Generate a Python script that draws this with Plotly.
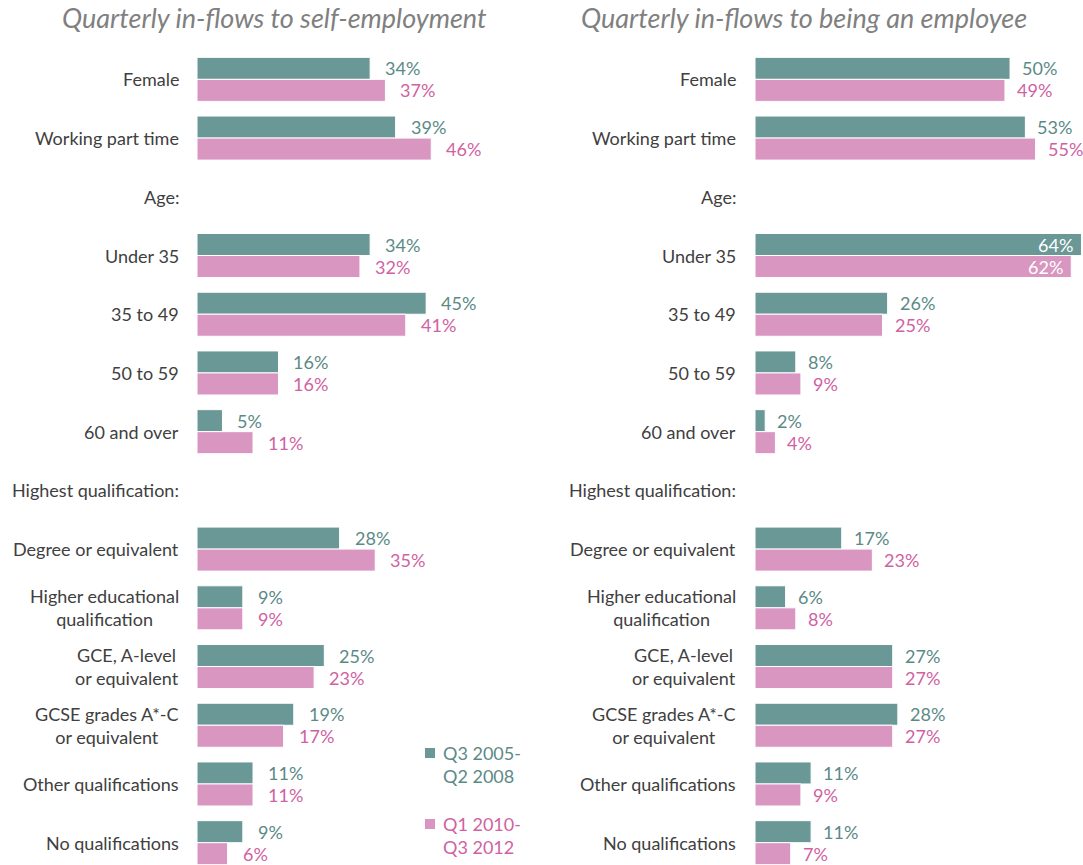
import plotly.graph_objects as go

categories = ["Female", "Working part time", "Age:", "Under 35", "35 to 49", "50 to 59",
              "60 and over", "Highest qualification:", "Degree or equivalent",
              "Higher educational<br>qualification", "GCE, A-level<br>or equivalent",
              "GCSE grades A*-C<br>or equivalent", "Other qualifications", "No qualifications"]

self_emp_2005 = [34, 39, None, 34, 45, 16, 5, None, 28, 9, 25, 19, 11, 9]
self_emp_2010 = [37, 46, None, 32, 41, 16, 11, None, 35, 9, 23, 17, 11, 6]
employee_2005 = [50, 53, None, 64, 26, 8, 2, None, 17, 6, 27, 28, 11, 11]
employee_2010 = [49, 55, None, 62, 25, 9, 4, None, 23, 8, 27, 27, 9, 7]

series_names = ["Q3 2005-<br>Q2 2008", "Q1 2010-<br>Q3 2012"]
titles = ["Quarterly in-flows to self-employment", "Quarterly in-flows to being an employee"]

TEAL = "#699896"
PINK = "#d896c0"
TEAL_TXT = "#5b8a86"
PINK_TXT = "#d062a2"
FONT = "Lato"

W, H = 1083, 865
T, B = 50, 0
PH = H - T - B
rows = list(range(len(categories)))


def py(px):
    """pixel y from top -> paper y"""
    return (H - B - px) / PH


fig = go.Figure()
panels = [
    (self_emp_2005, self_emp_2010, "x", "y", 13),
    (employee_2005, employee_2010, "x2", "y2", 10),
]
annotations = []
shapes = []
for pi, (a, b, xa, ya, gap) in enumerate(panels):
    for si, (vals, col, tcol, off) in enumerate([(a, TEAL, TEAL_TXT, -0.375), (b, PINK, PINK_TXT, 0.0)]):
        fig.add_trace(go.Bar(
            x=vals, y=rows, orientation="h", xaxis=xa, yaxis=ya,
            width=0.375, offset=off, marker=dict(color=col, line=dict(color="white", width=1)),
            name=series_names[si].replace("<br>", " "), showlegend=False,
            hoverinfo="x",
        ))
        for r, v in zip(rows, vals):
            if v is None:
                continue
            inside = v > 60
            annotations.append(dict(
                x=v, y=r + off + 0.1875, xref=xa, yref=ya,
                text=f"{v}%", showarrow=False,
                xanchor="right" if inside else "left",
                xshift=-6 if inside else gap,
                font=dict(family=FONT, size=18, color="white" if inside else tcol),
            ))

# category labels
left_x = [181 / W, 738 / W]
for pi in range(2):
    for r, c in zip(rows, categories):
        annotations.append(dict(
            x=left_x[pi], y=r, xref="paper", yref="y" if pi == 0 else "y2",
            text=c, showarrow=False, xanchor="right", align="center",
            font=dict(family=FONT, size=18, color="#404040"),
        ))

# titles
for pi, xc in enumerate([274 / W, 804 / W]):
    annotations.append(dict(
        x=xc, y=py(17), xref="paper", yref="paper",
        text=titles[pi], showarrow=False, xanchor="center", yanchor="middle",
        font=dict(family=FONT, size=27, color="#808080", style="italic"),
    ))

# legend (manual)
leg = [(series_names[0], TEAL, TEAL_TXT, 753), (series_names[1], PINK, PINK_TXT, 824)]
for name, col, tcol, yc in leg:
    shapes.append(dict(type="rect", xref="paper", yref="paper",
                       x0=425 / W, x1=435 / W, y0=py(yc + 5), y1=py(yc - 5),
                       fillcolor=col, line=dict(width=0)))
    annotations.append(dict(
        x=441 / W, y=py(yc - 13), xref="paper", yref="paper",
        text=name, showarrow=False, xanchor="left", yanchor="top", align="left",
        font=dict(family=FONT, size=18, color=tcol),
    ))

fig.update_layout(
    width=W, height=H,
    margin=dict(l=0, r=0, t=T, b=B),
    plot_bgcolor="white", paper_bgcolor="white",
    barmode="overlay",
    annotations=annotations,
    shapes=shapes,
    showlegend=False,
    xaxis=dict(domain=[197 / W, 528 / W], range=[0, 65], visible=False, fixedrange=True),
    xaxis2=dict(domain=[755 / W, 1.0], range=[0, 64.3], visible=False, fixedrange=True),
    yaxis=dict(range=[13.38, -0.5], visible=False, anchor="x", fixedrange=True),
    yaxis2=dict(range=[13.38, -0.5], visible=False, anchor="x2", fixedrange=True),
)

fig.write_html("out.html", config={"displayModeBar": False},
               post_script="document.body.style.margin='0';document.body.style.overflow='hidden';")
